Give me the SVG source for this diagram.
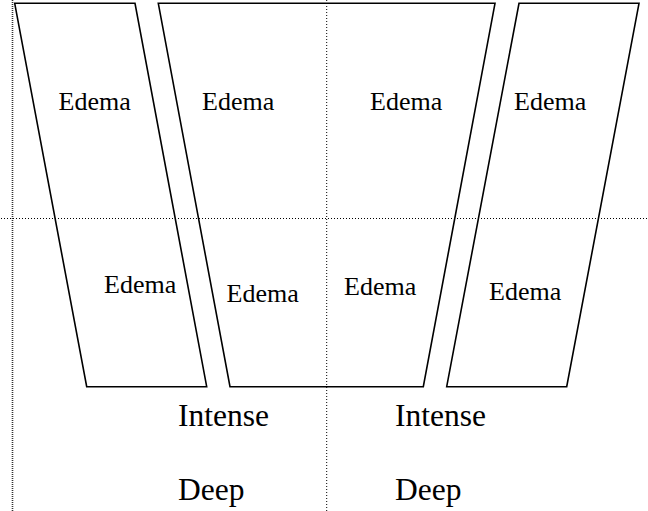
<svg xmlns="http://www.w3.org/2000/svg" width="648" height="511" viewBox="0 0 648 511">
<style>
.shape{fill:none;stroke:#000;stroke-width:1.6;stroke-linejoin:miter}
.guide{fill:none;stroke:#000;stroke-width:1;stroke-dasharray:1 2}
.guide2{fill:none;stroke:#333;stroke-width:1.6;stroke-dasharray:1 1}
.lbl{font-family:"Liberation Serif","Times New Roman",serif;font-size:26px;fill:#000}
.big{font-family:"Liberation Serif","Times New Roman",serif;font-size:31.5px;fill:#000}
</style>
<rect width="648" height="511" fill="#fff"/>
<g id="guides">
<line class="guide2" x1="12.5" y1="0" x2="12.5" y2="511"/>
<line class="guide" x1="1" y1="218.5" x2="648" y2="218.5"/>
<line class="guide" x1="326.7" y1="0" x2="326.7" y2="511"/>
</g>
<g id="shape1">
<polygon class="shape" points="14.7,3.3 135,3.3 206.7,386.7 86.7,386.7"/>
<text class="lbl" x="58.5" y="110">Edema</text>
<text class="lbl" x="104" y="293">Edema</text>
</g>
<g id="shape2">
<polygon class="shape" points="158.3,3.3 495,3.3 423.3,386.7 230,386.7"/>
<text class="lbl" x="202" y="110">Edema</text>
<text class="lbl" x="370" y="110">Edema</text>
<text class="lbl" x="226.5" y="302">Edema</text>
<text class="lbl" x="344" y="295">Edema</text>
</g>
<g id="shape3">
<polygon class="shape" points="519,3.3 639,3.3 566.7,386.7 446.7,386.7"/>
<text class="lbl" x="514" y="110">Edema</text>
<text class="lbl" x="489" y="300">Edema</text>
</g>
<g id="labels">
<text class="big" x="178" y="426">Intense</text>
<text class="big" x="395" y="426">Intense</text>
<text class="big" x="178" y="500">Deep</text>
<text class="big" x="395" y="500">Deep</text>
</g>
</svg>
